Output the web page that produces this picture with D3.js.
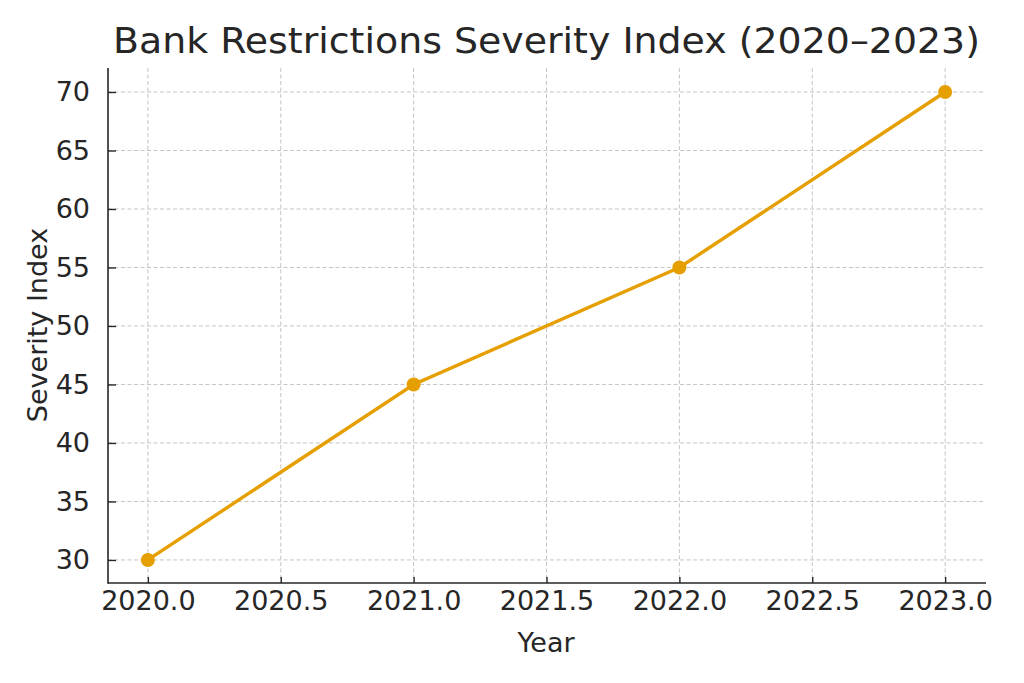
<!DOCTYPE html>
<html><head><meta charset="utf-8">
<script src="https://cdn.jsdelivr.net/npm/d3@7"></script>
<style>body{margin:0;background:#fff;} svg{display:block;} text{font-family:"DejaVu Sans",sans-serif;fill:#262626;}</style>
</head><body>
<svg id="c" width="1024" height="683"></svg>
<script>
const years = [2020, 2021, 2022, 2023];
const severity = [30, 45, 55, 70];
const xTicks = [2020.0, 2020.5, 2021.0, 2021.5, 2022.0, 2022.5, 2023.0];
const yTicks = [30, 35, 40, 45, 50, 55, 60, 65, 70];
const titleText = "Bank Restrictions Severity Index (2020–2023)";
const xLabel = "Year", yLabel = "Severity Index";

const svg = d3.select("#c");
const L = 108, R = 985, T = 68, B = 583;
const x = d3.scaleLinear().domain([2019.85, 2023.15]).range([L, R]);
const y = d3.scaleLinear().domain([28.03, 72.05]).range([B, T]);

// grid
svg.append("g").selectAll("line").data(xTicks).join("line")
  .attr("x1", d => x(d)).attr("x2", d => x(d)).attr("y1", T).attr("y2", B)
  .attr("stroke", "#b0b0b0").attr("stroke-opacity", 0.75).attr("stroke-width", 1).attr("stroke-dasharray", "4,2.5");
svg.append("g").selectAll("line").data(yTicks).join("line")
  .attr("y1", d => y(d)).attr("y2", d => y(d)).attr("x1", L).attr("x2", R)
  .attr("stroke", "#b0b0b0").attr("stroke-opacity", 0.75).attr("stroke-width", 1).attr("stroke-dasharray", "4,2.5");

// axes (ticks pointing inward)
const xAxis = svg.append("g").attr("transform", `translate(0,${B})`)
  .call(d3.axisBottom(x).tickValues(xTicks).tickFormat(d3.format(".1f")).tickSizeOuter(0).tickSizeInner(-6).tickPadding(8));
const yAxis = svg.append("g").attr("transform", `translate(${L},0)`)
  .call(d3.axisLeft(y).tickValues(yTicks).tickFormat(d3.format("d")).tickSizeOuter(0).tickSizeInner(-8).tickPadding(18));
[xAxis, yAxis].forEach(a => {
  a.select(".domain").remove();
  a.selectAll(".tick line").attr("stroke", "#262626").attr("stroke-width", 1.4);
  a.selectAll(".tick text").attr("font-size", 27).attr("font-family", "DejaVu Sans").attr("fill", "#262626");
});
svg.append("line").attr("x1", L).attr("x2", L).attr("y1", T).attr("y2", B + 0.8).attr("stroke", "#262626").attr("stroke-width", 1.6);
svg.append("line").attr("x1", L).attr("x2", R + 1).attr("y1", B).attr("y2", B).attr("stroke", "#262626").attr("stroke-width", 1.6);

// line
const data = years.map((d, i) => ({ x: d, y: severity[i] }));
svg.append("path").datum(data)
  .attr("d", d3.line().x(d => x(d.x)).y(d => y(d.y)))
  .attr("fill", "none").attr("stroke", "#E69F00").attr("stroke-width", 3.4);
svg.append("g").selectAll("circle").data(data).join("circle")
  .attr("cx", d => x(d.x)).attr("cy", d => y(d.y)).attr("r", 7).attr("fill", "#E69F00");

// labels
svg.append("text").attr("x", 113).attr("y", 53)
  .attr("font-size", 35).attr("fill", "#333").attr("textLength", 867).attr("lengthAdjust", "spacingAndGlyphs").text(titleText);
svg.append("text").attr("x", 546).attr("y", 652).attr("text-anchor", "middle")
  .attr("font-size", 27).text(xLabel);
svg.append("text").attr("transform", `translate(47,325) rotate(-90)`).attr("text-anchor", "middle")
  .attr("font-size", 27).text(yLabel);
</script>
</body></html>
